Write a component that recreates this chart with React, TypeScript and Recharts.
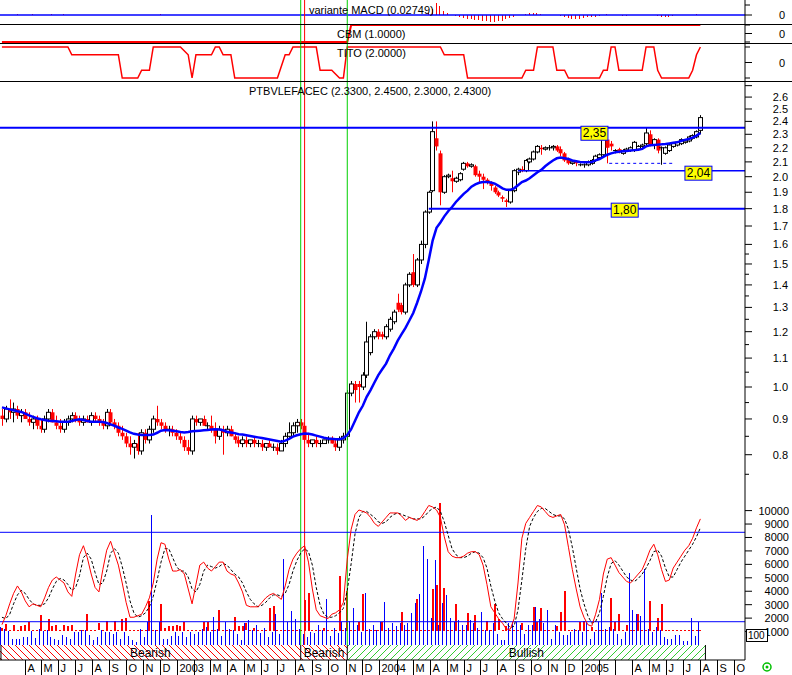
import React from "react";
import {
  ComposedChart,
  Bar,
  Line,
  XAxis,
  YAxis,
  ReferenceLine,
  ReferenceArea,
  ReferenceDot,
} from "recharts";

const FONT = '"Liberation Sans", Arial, sans-serif';
const AXIS_X = 745;
const X_DOMAIN = [-0.5, 191.5];

// weekly candles, week 0 = mid Feb 2002, week 180 = Aug 2005
const OPEN = [
  0.91, 0.9, 0.93, 0.92, 0.93, 0.91, 0.92, 0.9, 0.89, 0.9,
  0.88, 0.87, 0.9, 0.92, 0.89, 0.88, 0.87, 0.89, 0.9, 0.91,
  0.9, 0.89, 0.9, 0.89, 0.91, 0.9, 0.89, 0.88, 0.92, 0.89,
  0.88, 0.86, 0.85, 0.83, 0.82, 0.83, 0.81, 0.86, 0.84, 0.87,
  0.9, 0.89, 0.88, 0.87, 0.87, 0.86, 0.85, 0.84, 0.82, 0.81,
  0.9, 0.89, 0.9, 0.88, 0.88, 0.87, 0.85, 0.87, 0.86, 0.87,
  0.85, 0.84, 0.83, 0.84, 0.83, 0.84, 0.83, 0.83, 0.82, 0.83,
  0.82, 0.82, 0.81, 0.83, 0.85, 0.86, 0.88, 0.89, 0.88, 0.84,
  0.83, 0.84, 0.83, 0.83, 0.84, 0.84, 0.83, 0.82, 0.84, 0.85,
  0.98, 1.01, 1.01, 1.0, 1.04, 1.12, 1.18, 1.2, 1.19, 1.18,
  1.21, 1.24, 1.32, 1.31, 1.28, 1.4, 1.46, 1.4, 1.52, 1.6,
  1.78, 1.91, 2.27, 2.16, 1.9, 2.0, 1.99, 1.97, 1.98, 2.05,
  2.09, 2.07, 2.07, 2.02, 2.0, 1.98, 1.96, 1.93, 1.9, 1.87,
  1.85, 1.84, 1.91, 2.03, 2.05, 2.04, 2.1, 2.12, 2.17, 2.2,
  2.19, 2.2, 2.2, 2.21, 2.19, 2.16, 2.12, 2.09, 2.1, 2.08,
  2.08, 2.08, 2.09, 2.11, 2.13, 2.15, 2.26, 2.23, 2.18, 2.19,
  2.16, 2.18, 2.18, 2.18, 2.19, 2.21, 2.23, 2.3, 2.22, 2.26,
  2.2, 2.16, 2.18, 2.21, 2.22, 2.23, 2.24, 2.25, 2.27, 2.28, 2.33,
];
const HIGH = [
  0.93, 0.94, 0.96, 0.95, 0.94, 0.93, 0.93, 0.92, 0.91, 0.91,
  0.9, 0.91, 0.93, 0.93, 0.91, 0.9, 0.9, 0.91, 0.92, 0.92,
  0.91, 0.91, 0.91, 0.92, 0.92, 0.91, 0.9, 0.93, 0.93, 0.9,
  0.89, 0.88, 0.86, 0.85, 0.84, 0.86, 0.87, 0.87, 0.88, 0.91,
  0.94, 0.9, 0.89, 0.88, 0.88, 0.87, 0.86, 0.85, 0.84, 0.91,
  0.91, 0.9, 0.91, 0.89, 0.91, 0.89, 0.88, 0.88, 0.88, 0.88,
  0.86, 0.85, 0.85, 0.85, 0.84, 0.85, 0.84, 0.84, 0.83, 0.84,
  0.83, 0.83, 0.84, 0.86, 0.89, 0.89, 0.9, 0.9, 0.89, 0.86,
  0.84, 0.85, 0.84, 0.84, 0.85, 0.85, 0.84, 0.85, 0.86, 0.99,
  1.02, 1.02, 1.02, 1.05, 1.24, 1.19, 1.21, 1.21, 1.2, 1.23,
  1.26, 1.29, 1.36, 1.32, 1.41, 1.46, 1.55, 1.53, 1.62, 1.79,
  1.91, 2.4, 2.4, 2.18, 2.01, 2.02, 2.04, 2.0, 2.03, 2.1,
  2.1, 2.09, 2.08, 2.04, 2.02, 1.99, 1.97, 1.94, 1.91, 1.88,
  1.86, 1.92, 2.05, 2.06, 2.07, 2.12, 2.13, 2.18, 2.22, 2.22,
  2.21, 2.22, 2.22, 2.22, 2.21, 2.17, 2.13, 2.11, 2.11, 2.09,
  2.09, 2.11, 2.12, 2.15, 2.16, 2.35, 2.27, 2.25, 2.19, 2.2,
  2.19, 2.2, 2.21, 2.25, 2.22, 2.23, 2.35, 2.33, 2.27, 2.27,
  2.21, 2.21, 2.23, 2.24, 2.25, 2.27, 2.26, 2.29, 2.3, 2.33, 2.45,
];
const LOW = [
  0.88, 0.89, 0.9, 0.89, 0.9, 0.89, 0.9, 0.88, 0.87, 0.87,
  0.86, 0.86, 0.89, 0.89, 0.87, 0.86, 0.86, 0.88, 0.89, 0.89,
  0.88, 0.88, 0.89, 0.88, 0.89, 0.88, 0.87, 0.87, 0.88, 0.87,
  0.85, 0.84, 0.82, 0.8, 0.79, 0.8, 0.8, 0.83, 0.83, 0.86,
  0.88, 0.87, 0.86, 0.85, 0.85, 0.84, 0.83, 0.81, 0.8, 0.8,
  0.88, 0.88, 0.88, 0.87, 0.86, 0.83, 0.84, 0.8, 0.85, 0.85,
  0.83, 0.82, 0.82, 0.82, 0.82, 0.82, 0.82, 0.81, 0.81, 0.82,
  0.81, 0.8, 0.81, 0.82, 0.84, 0.85, 0.86, 0.87, 0.83, 0.82,
  0.82, 0.82, 0.82, 0.83, 0.83, 0.83, 0.81, 0.81, 0.83, 0.84,
  0.97, 0.95, 0.95, 0.99, 1.03, 1.11, 1.17, 1.17, 1.17, 1.17,
  1.2, 1.23, 1.28, 1.27, 1.27, 1.39, 1.39, 1.39, 1.5, 1.58,
  1.77, 1.9, 2.18, 1.82, 1.89, 1.99, 1.9, 1.96, 1.97, 2.04,
  2.06, 2.06, 2.0, 1.96, 1.92, 1.95, 1.91, 1.89, 1.87, 1.84,
  1.81, 1.83, 1.9, 2.01, 2.03, 2.03, 2.09, 2.11, 2.16, 2.15,
  2.18, 2.18, 2.18, 2.17, 2.14, 2.1, 2.08, 2.08, 2.07, 2.07,
  2.06, 2.07, 2.08, 2.1, 2.12, 2.14, 2.09, 2.18, 2.16, 2.16,
  2.15, 2.17, 2.17, 2.17, 2.18, 2.2, 2.22, 2.21, 2.19, 2.16,
  2.08, 2.15, 2.17, 2.2, 2.21, 2.22, 2.23, 2.24, 2.26, 2.27, 2.3,
];
const CLOSE = [
  0.9, 0.93, 0.92, 0.93, 0.91, 0.92, 0.9, 0.89, 0.9, 0.88,
  0.87, 0.9, 0.92, 0.89, 0.88, 0.87, 0.89, 0.9, 0.91, 0.9,
  0.89, 0.9, 0.89, 0.91, 0.9, 0.89, 0.88, 0.92, 0.89, 0.88,
  0.86, 0.85, 0.83, 0.82, 0.83, 0.81, 0.86, 0.84, 0.87, 0.9,
  0.89, 0.88, 0.87, 0.87, 0.86, 0.85, 0.84, 0.82, 0.81, 0.9,
  0.89, 0.9, 0.88, 0.88, 0.87, 0.85, 0.87, 0.86, 0.87, 0.85,
  0.84, 0.83, 0.84, 0.83, 0.84, 0.83, 0.83, 0.82, 0.83, 0.82,
  0.82, 0.81, 0.83, 0.85, 0.86, 0.88, 0.89, 0.88, 0.84, 0.83,
  0.84, 0.83, 0.83, 0.84, 0.84, 0.83, 0.82, 0.84, 0.85, 0.98,
  1.01, 0.99, 1.0, 1.04, 1.16, 1.18, 1.2, 1.18, 1.18, 1.22,
  1.25, 1.28, 1.29, 1.28, 1.4, 1.45, 1.4, 1.52, 1.6, 1.78,
  1.9, 2.32, 2.21, 1.9, 2.0, 2.01, 1.97, 1.99, 2.02, 2.09,
  2.07, 2.08, 2.01, 2.0, 1.98, 1.96, 1.94, 1.9, 1.88, 1.86,
  1.84, 1.91, 2.04, 2.05, 2.04, 2.11, 2.12, 2.17, 2.21, 2.19,
  2.2, 2.2, 2.21, 2.18, 2.16, 2.11, 2.09, 2.1, 2.09, 2.08,
  2.08, 2.1, 2.11, 2.14, 2.15, 2.32, 2.2, 2.21, 2.18, 2.17,
  2.18, 2.19, 2.2, 2.24, 2.21, 2.22, 2.31, 2.22, 2.26, 2.18,
  2.2, 2.2, 2.22, 2.23, 2.24, 2.26, 2.25, 2.28, 2.29, 2.32, 2.43,
];
const MA = [
  0.935, 0.932, 0.929, 0.926, 0.923, 0.921, 0.916, 0.911, 0.906, 0.902,
  0.899, 0.897, 0.895, 0.894, 0.893, 0.892, 0.892, 0.892, 0.894, 0.897,
  0.899, 0.897, 0.894, 0.892, 0.892, 0.892, 0.891, 0.888, 0.884, 0.88,
  0.875, 0.871, 0.866, 0.861, 0.857, 0.855, 0.854, 0.854, 0.854, 0.855,
  0.86, 0.866, 0.868, 0.867, 0.866, 0.864, 0.862, 0.861, 0.862, 0.864,
  0.865, 0.866, 0.867, 0.868, 0.869, 0.87, 0.869, 0.867, 0.863, 0.861,
  0.859, 0.856, 0.855, 0.853, 0.851, 0.849, 0.847, 0.845, 0.843, 0.841,
  0.839, 0.837, 0.835, 0.838, 0.843, 0.849, 0.853, 0.856, 0.858, 0.857,
  0.855, 0.852, 0.849, 0.846, 0.844, 0.843, 0.842, 0.842, 0.845, 0.854,
  0.87, 0.895, 0.92, 0.94, 0.968, 0.99, 1.015, 1.04, 1.06, 1.08,
  1.11, 1.135, 1.165, 1.19, 1.215, 1.245, 1.276, 1.32, 1.37, 1.43,
  1.52, 1.62, 1.69, 1.72, 1.755, 1.785, 1.81, 1.84, 1.865, 1.89,
  1.91, 1.935, 1.95, 1.96, 1.965, 1.966, 1.962, 1.955, 1.94, 1.925,
  1.915, 1.915, 1.925, 1.945, 1.965, 1.975, 1.99, 2.01, 2.03, 2.045,
  2.07, 2.09, 2.11, 2.125, 2.13, 2.125, 2.12, 2.11, 2.105, 2.1,
  2.098, 2.098, 2.1, 2.11, 2.12, 2.135, 2.15, 2.16, 2.167, 2.172,
  2.175, 2.177, 2.18, 2.183, 2.186, 2.192, 2.21, 2.218, 2.221, 2.223,
  2.225, 2.228, 2.232, 2.236, 2.24, 2.25, 2.258, 2.265, 2.275, 2.29, 2.31,
];

// stochastic (red %K, dashed %D)
const STOCH_K = [
  18, 24, 32, 39, 44, 40, 34, 30, 32, 31,
  30, 36, 43, 48, 50, 48, 46, 40, 37, 52,
  65, 71, 63, 52, 43, 40, 55, 68, 74, 66,
  58, 46, 33, 23, 23, 24, 25, 30, 36, 46,
  62, 73, 72, 62, 54, 54, 55, 52, 42, 32,
  45, 58, 60, 56, 54, 57, 60, 60, 54, 52,
  51, 46, 40, 31, 30, 30, 30, 33, 36, 38,
  39, 37, 35, 44, 55, 62, 66, 69, 71, 60,
  42, 28, 24, 23, 22, 25, 26, 28, 33, 62,
  82, 92, 95, 94, 93, 90, 86, 84, 87, 90,
  93, 93, 93, 91, 88, 90, 89, 88, 90, 94,
  98, 97, 95, 90, 77, 67, 64, 63, 63, 64,
  66, 67, 67, 65, 58, 45, 30, 26, 22, 19,
  15, 15, 22, 46, 76, 86, 90, 94, 98, 97,
  94, 91, 90, 91, 92, 85, 70, 55, 42, 30,
  23, 18, 17, 25, 35, 52, 62, 63, 58, 53,
  50, 47, 46, 49, 52, 55, 61, 68, 72, 65,
  55, 47, 48, 56, 60, 64, 68, 71, 76, 83, 89,
];
const STOCH_D = [
  23, 22, 25, 32, 38, 41, 39, 35, 32, 31,
  31, 32, 36, 42, 47, 49, 48, 45, 41, 43,
  51, 63, 66, 62, 53, 45, 46, 54, 66, 69,
  66, 57, 46, 34, 26, 23, 24, 26, 30, 37,
  48, 60, 69, 69, 63, 57, 54, 54, 50, 42,
  40, 45, 54, 58, 57, 56, 57, 59, 58, 55,
  52, 50, 46, 40, 35, 32, 30, 31, 33, 36,
  38, 38, 37, 39, 45, 54, 61, 66, 69, 67,
  58, 43, 31, 25, 23, 23, 24, 26, 29, 41,
  59, 79, 90, 94, 94, 92, 90, 87, 86, 87,
  90, 92, 93, 92, 91, 90, 89, 89, 89, 91,
  94, 96, 97, 94, 87, 78, 69, 65, 63, 63,
  64, 66, 67, 66, 63, 56, 44, 34, 26, 22,
  19, 16, 17, 28, 48, 69, 84, 90, 94, 96,
  96, 94, 92, 91, 91, 89, 82, 70, 56, 42,
  32, 24, 19, 20, 26, 37, 50, 59, 61, 58,
  54, 50, 48, 47, 49, 52, 56, 61, 67, 68,
  64, 56, 50, 50, 55, 60, 64, 68, 72, 77, 83,
];

// volume: blue bars from zero, red bars from the dotted base line
const VOL_BLUE = [
  1370, 1200, 1050, 480, 450, 480, 600, 600, 1020, 500,
  1200, 1020, 1100, 600, 480, 400, 750, 600, 480, 950,
  950, 1100, 1100, 750, 400, 600, 1100, 950, 950, 850,
  950, 480, 950, 700, 400, 250, 1200, 600, 1740, 9650,
  1100, 1740, 480, 480, 700, 950, 700, 950, 600, 950,
  850, 950, 1200, 1370, 950, 2110, 1200, 700, 1740, 1200,
  1100, 850, 400, 1620, 1860, 1100, 1500, 900, 1300, 600,
  1000, 2340, 800, 6430, 1700, 2500, 1950, 1200, 800, 600,
  1000, 900, 1500, 1100, 3450, 700, 1300, 900, 1700, 1300,
  1800, 2750, 1490, 1000, 3900, 1200, 1490, 1100, 1730, 3200,
  1240, 1610, 1400, 1610, 1500, 1610, 2360, 3100, 3820, 7400,
  6380, 2000, 6300, 1500, 3100, 3740, 2000, 1730, 1860, 1490,
  1490, 1860, 1610, 1300, 2480, 1120, 1120, 1610, 800, 370,
  370, 1610, 1730, 1700, 1470, 800, 1470, 1470, 2830, 1960,
  1600, 2580, 480, 1470, 1000, 770, 770, 1000, 1220, 1100,
  1000, 1720, 480, 1000, 1720, 3900, 1220, 1350, 1220, 800,
  480, 1000, 5350, 2580, 2340, 2150, 5650, 1220, 1000, 1350,
  1100, 600, 480, 480, 770, 770, 300, 300, 2000, 700, 1700,
];
const VOL_RED = [
  1300, 1590, 1150, 1520, 1150, 1450, 1500, 1700, 1150, 1150,
  2210, 1150, 1910, 1400, 1500, 1150, 1500, 1400, 1500, 1150,
  1150, 1150, 2340, 1150, 1150, 1600, 1150, 1770, 1150, 1810,
  1150, 1910, 2000, 1150, 1150, 1150, 1150, 1150, 3300, 1150,
  1150, 3080, 1300, 1400, 1400, 1500, 1400, 1700, 1150, 1150,
  1150, 1150, 1700, 1700, 1150, 1150, 2630, 1150, 1150, 1150,
  2100, 1400, 1400, 1600, 1150, 1300, 1150, 1150, 1150, 2750,
  2900, 1150, 1150, 1150, 1150, 1150, 1150, 1150, 3330, 3900,
  1150, 1150, 1150, 1300, 1150, 1150, 1150, 5160, 1150, 4000,
  1150, 1150, 1730, 3800, 1150, 1150, 1150, 1150, 1730, 1150,
  1150, 1150, 1150, 2480, 1150, 1150, 1150, 3450, 1150, 1150,
  1150, 4200, 4500, 10600, 4270, 1150, 1150, 3080, 1150, 1150,
  2400, 1150, 2250, 1150, 1150, 1800, 1150, 3080, 1900, 1150,
  1450, 1150, 1150, 1150, 1600, 1150, 1150, 2830, 1700, 2730,
  1150, 1150, 1150, 1420, 2480, 4000, 1150, 1150, 1150, 1700,
  1800, 1150, 1350, 1150, 1150, 1150, 1150, 3500, 1700, 2300,
  1150, 1500, 1150, 1150, 2300, 1150, 1150, 3300, 1150, 2000,
  3080, 1150, 1150, 1150, 1150, 1150, 1150, 1150, 1150, 1150, 1150,
];
const RED_BASE = 1050;

// MACD histogram (only the visible bars)
const MACD_WEEK = [
  4, 8, 13, 16, 41, 77, 110, 111, 112, 113, 114, 115, 117, 118, 119, 120, 121,
  122, 123, 124, 125, 126, 127, 128, 129, 130, 131, 132, 135, 136, 137, 138,
  139, 144, 145, 146, 147, 148, 149, 150, 151, 152, 153, 154, 156, 160, 161,
  169, 170, 171, 172, 173, 179,
];
const MACD_VALUE = [
  0.003, 0.003, 0.003, 0.003, 0.004, 0.004, 0.01, 0.03, 0.06, 0.045, 0.02,
  0.008, -0.005, -0.01, -0.015, -0.02, -0.02, -0.025, -0.025, -0.03, -0.03,
  -0.033, -0.033, -0.03, -0.028, -0.022, -0.015, -0.008, 0.005, 0.008, 0.01,
  0.008, 0.005, -0.005, -0.01, -0.015, -0.018, -0.02, -0.018, -0.015, -0.012,
  -0.01, -0.008, -0.005, 0.006, -0.004, -0.005, -0.005, -0.01, -0.01, -0.008,
  -0.005, 0.005,
];

// CBM and TITO step lines (vertices)
const CBM_WEEK = [0, 89, 90, 180];
const CBM_VALUE = [-1, -1, 1, 1];
const TITO_WEEK = [
  0, 17, 18, 30, 31, 35, 36, 38, 39, 46, 48, 49, 50, 54, 55, 56, 57, 59, 60,
  71, 73, 74, 75, 81, 82, 85, 87, 88, 89, 113, 114, 119, 120, 134, 135, 137,
  138, 142, 143, 145, 146, 154, 155, 156, 157, 158, 159, 165, 166, 168, 169,
  170, 177, 178, 179, 180,
];
const TITO_VALUE = [
  2, 2, 1, 1, -2, -2, -1, -1, 2, 2, 1, -2, 1, 1, 2, 2, 1, 1, -2, -2, 1, 1, 2, 2,
  -1, -1, -2, -2, 2, 2, 1, 1, -2, -2, -1, -1, 2, 2, -1, -1, -2, -2, -1, -1, 2,
  2, -1, -1, 2, 2, -1, -2, -2, -1, 1, 2,
];

// horizontal price levels
const LEVEL_VALUE = [2.35, 2.04, 1.8];
const LEVEL_FROM = [-0.5, 133, 110];
const LEVEL_WIDTH = [2, 1.5, 2];
const LEVEL_TEXT = ["2,35", "2,04", "1,80"];
const LEVEL_LABEL_WEEK = [152.7, 179.5, 160.5];
const LEVEL_LABEL_DY = [5, 2, 1];
const SUPPORT_VALUE = 2.09;
const SUPPORT_FROM = 156.5;
const SUPPORT_TO = 172.8;

// signal markers
const MARKER_WEEK = [77, 78, 89];
const MARKER_COLOR = ["#00d000", "#ff0000", "#00d000"];

// trend regimes in the band under the volume
const REGIME_FROM = [-0.5, 77, 89];
const REGIME_TO = [77, 89, 181.3];
const REGIME_TEXT = ["Bearish", "Bearish", "Bullish"];
const REGIME_FILL = ["url(#hatchRed)", "url(#hatchRed)", "url(#hatchGreen)"];

// month ticks: days since 1 Jan 2002, week k sits on day 49 + 7k
const MONTH_DAY = [
  90, 120, 151, 181, 212, 243, 273, 304, 334,
  365, 396, 424, 455, 485, 516, 546, 577, 608, 638, 669, 699,
  730, 761, 790, 821, 851, 882, 912, 943, 974, 1004, 1035, 1065,
  1096, 1127, 1155, 1186, 1216, 1247, 1277, 1308, 1339, 1369,
];
const MONTH_LABEL = [
  "A", "M", "J", "J", "A", "S", "O", "N", "D",
  "2003", "", "M", "A", "M", "J", "J", "A", "S", "O", "N", "D",
  "2004", "", "M", "A", "M", "J", "J", "A", "S", "O", "N", "D",
  "2005", "", "", "A", "M", "J", "J", "A", "S", "O",
];
const MONTH_TICKS = MONTH_DAY.map((d) => (d - 49) / 7);

const PRICE_TICKS = [
  0.75, 0.8, 0.85, 0.9, 0.95, 1.0, 1.05, 1.1, 1.15, 1.2, 1.25, 1.3, 1.35, 1.4,
  1.45, 1.5, 1.55, 1.6, 1.7, 1.8, 1.9, 2.0, 2.1, 2.2, 2.3, 2.4, 2.5, 2.6, 2.7,
];
const VOL_TICKS = [1000, 2000, 3000, 4000, 5000, 6000, 7000, 8000, 9000, 10000];

const N = CLOSE.length;

const priceRows = CLOSE.map((c, i) => ({
  k: i,
  open: OPEN[i],
  high: HIGH[i],
  low: LOW[i],
  close: c,
  range: [LOW[i], HIGH[i]],
  ma: MA[i],
}));

const lowerRows = CLOSE.map((_, i) => ({
  k: i,
  volBlue: VOL_BLUE[i],
  volRed: [RED_BASE, VOL_RED[i]],
  stochK: STOCH_K[i],
  stochD: STOCH_D[i],
}));

const topRows = Array.from({ length: N }, (_, i) => ({
  k: i,
  macd: null as number | null,
  cbm: null as number | null,
  tito: null as number | null,
}));
MACD_WEEK.forEach((w, j) => (topRows[w].macd = MACD_VALUE[j]));
CBM_WEEK.forEach((w, j) => (topRows[w].cbm = CBM_VALUE[j]));
TITO_WEEK.forEach((w, j) => (topRows[w].tito = TITO_VALUE[j]));

function Candle(props: any) {
  const { x, y, width, height, payload } = props;
  const { open, close, high, low } = payload;
  const cx = Math.round(x + width / 2) + 0.5;
  const span = Math.log(high) - Math.log(low);
  const py = (v: number) =>
    span > 0 ? y + (height * (Math.log(high) - Math.log(v))) / span : y;
  const up = close >= open;
  const color = up ? "#000000" : "#ff0000";
  const top = py(Math.max(open, close));
  const bot = py(Math.min(open, close));
  const flat = bot - top < 1.2;
  return (
    <g>
      <line x1={cx} x2={cx} y1={py(high)} y2={py(low)} stroke={color} strokeWidth={1} />
      {flat ? (
        <line x1={cx - 2.5} x2={cx + 2.5} y1={top} y2={top} stroke={color} strokeWidth={1} />
      ) : up ? (
        <rect x={cx - 2} y={top} width={4} height={bot - top} fill="#ffffff" stroke="#000000" strokeWidth={1} />
      ) : (
        <rect x={cx - 2} y={top} width={4} height={bot - top} fill="#ff0000" />
      )}
    </g>
  );
}

// bar snapped to whole pixels so thin bars stay solid
function CrispBar(props: any) {
  const { x, width, fill } = props;
  let { y, height } = props;
  if (height == null || !isFinite(height) || !isFinite(y)) return null;
  if (height < 0) {
    y += height;
    height = -height;
  }
  return (
    <rect
      x={Math.round(x)}
      y={Math.round(y)}
      width={Math.max(1, Math.round(width))}
      height={Math.max(1, Math.round(height))}
      fill={fill}
      shapeRendering="crispEdges"
    />
  );
}

function LevelBox(props: any) {
  const { cx, cy, text, dy } = props;
  return (
    <g>
      <rect x={cx - 13.5} y={cy + dy - 6.5} width={27} height={14} fill="#ffff00" stroke="#0000ff" strokeWidth={1} />
      <text x={cx} y={cy + dy + 4.5} textAnchor="middle" fontSize={12} fontFamily={FONT} fill="#000">
        {text}
      </text>
    </g>
  );
}

function PriceTick(props: any) {
  const { y, payload } = props;
  const v = payload.value;
  const major = Math.abs(v * 10 - Math.round(v * 10)) < 1e-6;
  return (
    <g>
      <line x1={AXIS_X} x2={AXIS_X + (major ? 7 : 4)} y1={y} y2={y} stroke="#000" />
      {major && v < 2.65 && (
        <text x={788} y={y + 4} textAnchor="end" fontSize={11} fontFamily={FONT} fill="#000">
          {v.toFixed(1)}
        </text>
      )}
    </g>
  );
}

function VolTick(props: any) {
  const { y, payload } = props;
  return (
    <g>
      <line x1={AXIS_X} x2={AXIS_X + 7} y1={y} y2={y} stroke="#000" />
      <text x={789} y={y + 4} textAnchor="end" fontSize={11} fontFamily={FONT} fill="#000">
        {payload.value}
      </text>
    </g>
  );
}

function ZeroTick(props: any) {
  const { y, payload } = props;
  const zero = payload.value === 0;
  return (
    <g>
      <line x1={AXIS_X} x2={AXIS_X + (zero ? 7 : 5)} y1={y} y2={y} stroke="#000" />
      {zero && (
        <text x={785} y={y + 4} textAnchor="end" fontSize={11} fontFamily={FONT} fill="#000">
          0
        </text>
      )}
    </g>
  );
}

function MonthTick(props: any) {
  const { x, payload } = props;
  const i = MONTH_TICKS.indexOf(payload.value);
  const lx = Math.round(x) + 0.5;
  return (
    <g>
      <line x1={lx} x2={lx} y1={163} y2={178} stroke="#000" />
      <text x={lx + 2} y={175} fontSize={11} fontFamily={FONT} fill="#000">
        {MONTH_LABEL[i]}
      </text>
    </g>
  );
}

function markers() {
  return MARKER_WEEK.map((w, i) => (
    <ReferenceLine key={"m" + i} x={w} stroke={MARKER_COLOR[i]} strokeWidth={1} />
  ));
}

const box = (top: number, height: number): React.CSSProperties => ({
  position: "absolute",
  left: 0,
  top,
  width: 792,
  height,
});

export default function App() {
  return (
    <div
      style={{
        position: "fixed",
        left: 0,
        top: 0,
        width: 792,
        height: 675,
        background: "#ffffff",
        overflow: "hidden",
        fontFamily: FONT,
      }}
    >
      <svg width={0} height={0} style={{ position: "absolute" }}>
        <defs>
          <pattern id="hatchRed" width={7} height={7} patternUnits="userSpaceOnUse">
            <path d="M0,0 L7,7 M-1,6 L1,8 M6,-1 L8,1" stroke="#ff0000" strokeWidth={1} />
          </pattern>
          <pattern id="hatchGreen" width={7} height={7} patternUnits="userSpaceOnUse">
            <path d="M0,7 L7,0 M-1,1 L1,-1 M6,8 L8,6" stroke="#33cc33" strokeWidth={1} />
          </pattern>
        </defs>
      </svg>

      {/* MACD */}
      <div style={box(0, 24)}>
        <ComposedChart width={792} height={24} data={topRows} margin={{ top: 0, right: 0, bottom: 0, left: 0 }}>
          <XAxis type="number" dataKey="k" domain={X_DOMAIN} hide allowDataOverflow />
          <YAxis
            orientation="right"
            width={47}
            domain={[-0.045, 0.075]}
            allowDataOverflow
            ticks={[0.05, 0]}
            interval={0}
            tickLine={false}
            axisLine={{ stroke: "#000" }}
            tick={(p: any) => <ZeroTick {...p} />}
          />
          <ReferenceLine y={0} stroke="#0000ff" strokeWidth={1.5} />
          <Bar dataKey="macd" fill="#ff0000" barSize={1} shape={(p: any) => <CrispBar {...p} />} isAnimationActive={false} />
          {markers()}
        </ComposedChart>
      </div>

      {/* CBM */}
      <div style={box(24, 19)}>
        <ComposedChart width={792} height={19} data={topRows} margin={{ top: 0, right: 0, bottom: 0, left: 0 }}>
          <XAxis type="number" dataKey="k" domain={X_DOMAIN} hide allowDataOverflow />
          <YAxis
            orientation="right"
            width={47}
            domain={[-1.118, 1.118]}
            allowDataOverflow
            ticks={[1, 0, -1]}
            interval={0}
            tickLine={false}
            axisLine={{ stroke: "#000" }}
            tick={(p: any) => <ZeroTick {...p} />}
          />
          <Line dataKey="cbm" stroke="#ff0000" strokeWidth={2} dot={false} connectNulls isAnimationActive={false} />
          {markers()}
        </ComposedChart>
      </div>

      {/* TITO */}
      <div style={box(43, 39)}>
        <ComposedChart width={792} height={39} data={topRows} margin={{ top: 0, right: 0, bottom: 0, left: 0 }}>
          <XAxis type="number" dataKey="k" domain={X_DOMAIN} hide allowDataOverflow />
          <YAxis
            orientation="right"
            width={47}
            domain={[-2.516, 2.516]}
            allowDataOverflow
            ticks={[2, 0, -2]}
            interval={0}
            tickLine={false}
            axisLine={{ stroke: "#000" }}
            tick={(p: any) => <ZeroTick {...p} />}
          />
          <Line dataKey="tito" stroke="#ff0000" strokeWidth={1.5} dot={false} connectNulls isAnimationActive={false} />
          {markers()}
        </ComposedChart>
      </div>

      {/* price */}
      <div style={box(82, 415)}>
        <ComposedChart width={792} height={415} data={priceRows} margin={{ top: 0, right: 0, bottom: 0, left: 0 }}>
          <XAxis type="number" dataKey="k" domain={X_DOMAIN} hide allowDataOverflow />
          <YAxis
            orientation="right"
            width={47}
            scale="log"
            domain={[0.6959, 2.7326]}
            allowDataOverflow
            ticks={PRICE_TICKS}
            interval={0}
            tickLine={false}
            axisLine={{ stroke: "#000" }}
            tick={(p: any) => <PriceTick {...p} />}
          />
          {markers()}
          {LEVEL_VALUE.map((v, i) => (
            <ReferenceLine
              key={"lv" + i}
              segment={[
                { x: LEVEL_FROM[i], y: v },
                { x: X_DOMAIN[1], y: v },
              ]}
              stroke="#0000ff"
              strokeWidth={LEVEL_WIDTH[i]}
            />
          ))}
          <ReferenceLine
            segment={[
              { x: SUPPORT_FROM, y: SUPPORT_VALUE },
              { x: SUPPORT_TO, y: SUPPORT_VALUE },
            ]}
            stroke="#0000ff"
            strokeDasharray="3 3"
          />
          <Bar dataKey="range" shape={(p: any) => <Candle {...p} />} barSize={4} isAnimationActive={false} />
          <Line dataKey="ma" stroke="#0000ff" strokeWidth={2.5} dot={false} isAnimationActive={false} />
          {LEVEL_VALUE.map((v, i) => (
            <ReferenceDot
              key={"lb" + i}
              x={LEVEL_LABEL_WEEK[i]}
              y={v}
              r={1}
              shape={(p: any) => <LevelBox {...p} text={LEVEL_TEXT[i]} dy={LEVEL_LABEL_DY[i]} />}
            />
          ))}
        </ComposedChart>
      </div>

      {/* volume + stochastic + regime band + time axis */}
      <div style={box(497, 178)}>
        <ComposedChart
          width={792}
          height={178}
          data={lowerRows}
          margin={{ top: 0, right: 0, bottom: 0, left: 0 }}
          barGap={1}
        >
          <XAxis
            type="number"
            dataKey="k"
            domain={X_DOMAIN}
            allowDataOverflow
            ticks={MONTH_TICKS}
            interval={0}
            height={15}
            tickLine={false}
            axisLine={{ stroke: "#000" }}
            tick={(p: any) => <MonthTick {...p} />}
          />
          <YAxis
            yAxisId="vol"
            orientation="right"
            width={47}
            domain={[-1116, 11012]}
            allowDataOverflow
            ticks={VOL_TICKS}
            interval={0}
            tickLine={false}
            axisLine={{ stroke: "#000" }}
            tick={(p: any) => <VolTick {...p} />}
          />
          <YAxis yAxisId="stoch" hide domain={[-5.7, 103.7]} allowDataOverflow />
          {REGIME_FROM.map((f, i) => (
            <ReferenceArea
              key={"rg" + i}
              yAxisId="vol"
              x1={f}
              x2={REGIME_TO[i]}
              y1={-1116}
              y2={0}
              fill={REGIME_FILL[i]}
              fillOpacity={1}
              stroke="none"
              label={{ value: REGIME_TEXT[i], position: "center", fontSize: 12, fill: "#000", fontFamily: FONT }}
            />
          ))}
          {[-0.25, ...REGIME_TO].map((w, i) => (
            <ReferenceLine
              key={"rs" + i}
              yAxisId="vol"
              segment={[
                { x: w, y: -1116 },
                { x: w, y: 0 },
              ]}
              stroke="#000"
            />
          ))}
          {MARKER_WEEK.map((w, i) => (
            <ReferenceLine
              key={"bm" + i}
              yAxisId="vol"
              segment={[
                { x: w, y: 0 },
                { x: w, y: 11012 },
              ]}
              stroke={MARKER_COLOR[i]}
            />
          ))}
          <ReferenceLine yAxisId="stoch" y={80} stroke="#0000ff" />
          <ReferenceLine yAxisId="stoch" y={20} stroke="#0000ff" />
          <Bar yAxisId="vol" dataKey="volBlue" fill="#0000ff" barSize={1} shape={(p: any) => <CrispBar {...p} />} isAnimationActive={false} />
          <Bar yAxisId="vol" dataKey="volRed" fill="#ff0000" barSize={2} shape={(p: any) => <CrispBar {...p} />} isAnimationActive={false} />
          <Line yAxisId="stoch" dataKey="stochD" stroke="#000" strokeWidth={1} strokeDasharray="3 2" dot={false} isAnimationActive={false} />
          <Line yAxisId="stoch" dataKey="stochK" stroke="#ff0000" strokeWidth={1} dot={false} isAnimationActive={false} />
        </ComposedChart>
      </div>

      {/* frame, titles, small widgets */}
      <svg width={792} height={675} style={{ position: "absolute", left: 0, top: 0, pointerEvents: "none" }}>
        <line x1={0} x2={792} y1={24.5} y2={24.5} stroke="#000" />
        <line x1={0} x2={792} y1={43.5} y2={43.5} stroke="#000" />
        <line x1={0} x2={792} y1={81.5} y2={81.5} stroke="#000" />
        <text x={309} y={14} fontSize={11} fontFamily={FONT} fill="#000">
          variante MACD (0.02749)
        </text>
        <text x={337} y={38} fontSize={11} fontFamily={FONT} fill="#000">
          CBM (1.0000)
        </text>
        <text x={337} y={57} fontSize={11} fontFamily={FONT} fill="#000">
          TITO (2.0000)
        </text>
        <text x={249} y={95} fontSize={11} fontFamily={FONT} fill="#000">
          PTBVLEFACEC (2.3300, 2.4500, 2.3000, 2.4300)
        </text>
        <rect x={746.5} y={629.5} width={21} height={12} fill="#fff" stroke="#000" />
        <text x={748} y={639} fontSize={10} fontFamily={FONT} fill="#000">
          100
        </text>
        <circle cx={767} cy={667} r={4} fill="none" stroke="#00c000" strokeWidth={1.5} />
        <circle cx={767} cy={667} r={1.5} fill="#00c000" />
      </svg>
    </div>
  );
}
